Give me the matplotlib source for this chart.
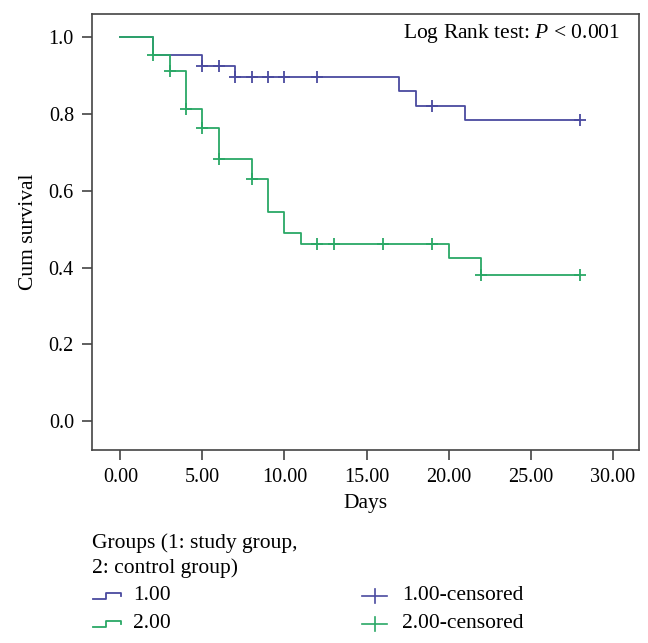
import matplotlib
matplotlib.use("Agg")
import matplotlib.pyplot as plt
from matplotlib.lines import Line2D

plt.rcParams['font.family'] = ['Liberation Serif', 'DejaVu Serif']
plt.rcParams['mathtext.fontset'] = 'custom'
plt.rcParams['mathtext.it'] = 'Liberation Serif:italic'
plt.rcParams['mathtext.rm'] = 'Liberation Serif'

# Kaplan-Meier steps, group 1 (study) and group 2 (control)
times_1 = [0, 2, 5, 7, 17, 18, 21, 28]
surv_1 = [1.0, 0.953, 0.926, 0.897, 0.861, 0.822, 0.784, 0.784]
cens_t_1 = [5, 6, 7, 8, 9, 10, 12, 19, 28]
cens_s_1 = [0.926, 0.926, 0.897, 0.897, 0.897, 0.897, 0.897, 0.822, 0.784]

times_2 = [0, 2, 3, 4, 5, 6, 8, 9, 10, 11, 20, 22, 28]
surv_2 = [1.0, 0.953, 0.912, 0.812, 0.763, 0.683, 0.631, 0.546, 0.489, 0.461, 0.425, 0.382, 0.382]
cens_t_2 = [2, 3, 4, 5, 6, 8, 12, 13, 16, 19, 22, 28]
cens_s_2 = [0.953, 0.912, 0.812, 0.763, 0.683, 0.631, 0.461, 0.461, 0.461, 0.461, 0.382, 0.382]

x_ticks = [0, 5, 10, 15, 20, 25, 30]
y_ticks = [0.0, 0.2, 0.4, 0.6, 0.8, 1.0]

blue = '#4a4a9f'
green = '#2aa866'
spine_col = '#444444'
fs = 15.5

fig = plt.figure(figsize=(6.48, 6.43), dpi=100)
ax = fig.add_axes([0.142, 0.300, 0.844, 0.678])

ax.step(times_1, surv_1, where='post', color=blue, lw=1.3)
ax.step(times_2, surv_2, where='post', color=green, lw=1.3)
ax.plot(cens_t_1, cens_s_1, ls='none', marker='+', ms=8, mew=1.3, color=blue)
ax.plot(cens_t_2, cens_s_2, ls='none', marker='+', ms=8, mew=1.3, color=green)

ax.set_xlim(-1.73, 31.6)
ax.set_ylim(-0.075, 1.06)
ax.set_xticks(x_ticks)
ax.set_xticklabels(['%.2f' % v for v in x_ticks])
ax.set_yticks(y_ticks)
ax.set_yticklabels(['%.1f' % v for v in y_ticks])
ax.tick_params(labelsize=14.5, length=7, width=1.2, color=spine_col, pad=6)
for s in ax.spines.values():
    s.set_color(spine_col)
    s.set_linewidth(1.2)

ax.set_xlabel('Days', fontsize=fs, labelpad=5)
ax.set_ylabel('Cum survival', fontsize=fs, labelpad=8)

ax.text(0.965, 0.955, 'Log Rank test: $P$ < 0.001', transform=ax.transAxes,
        ha='right', va='center', fontsize=fs)

# legend drawn below the axes, in pixel coordinates
W, H = 648, 643
def fx(px):
    return px / W
def fy(py):
    return 1 - py / H

fig.text(fx(92), fy(543), 'Groups (1: study group,', fontsize=fs, va='center')
fig.text(fx(92), fy(568), '2: control group)', fontsize=fs, va='center')

rows = [(596, blue, '1.00'), (624, green, '2.00')]
for py, col, lab in rows:
    xs = [fx(93), fx(106), fx(106), fx(121), fx(121)]
    ys = [fy(py + 3), fy(py + 3), fy(py - 3), fy(py - 3), fy(py)]
    fig.add_artist(Line2D(xs, ys, color=col, lw=1.3))
    fig.text(fx(133), fy(py), lab, fontsize=fs, va='center')
    fig.add_artist(Line2D([fx(362), fx(387)], [fy(py), fy(py)], color=col, lw=1.2))
    fig.add_artist(Line2D([fx(374.5), fx(374.5)], [fy(py - 7), fy(py + 7)], color=col, lw=1.2))
    fig.text(fx(402), fy(py), lab + '-censored', fontsize=fs, va='center')

fig.savefig('out.png', dpi=100)
